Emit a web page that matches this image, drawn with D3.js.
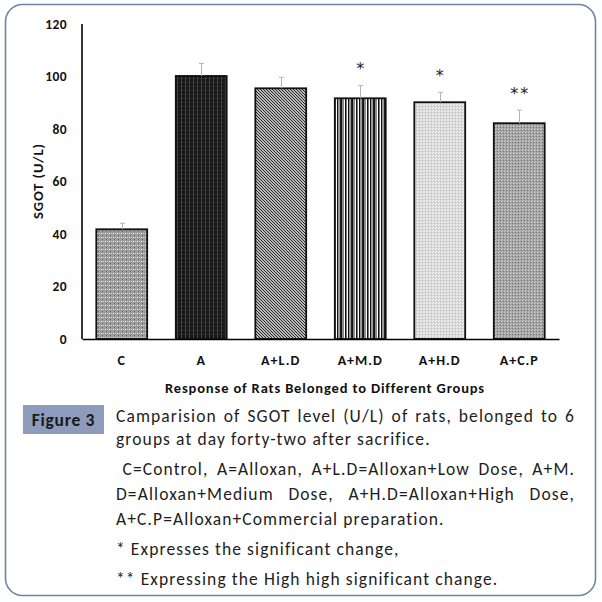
<!DOCTYPE html>
<html><head><meta charset="utf-8">
<script src="https://cdn.jsdelivr.net/npm/d3@7"></script>
<style>body{margin:0;background:#fff}svg{display:block}</style>
</head><body>
<svg id="c" width="602" height="602"></svg>
<script>
// ---- data ----
const categories = ["C", "A", "A+L.D", "A+M.D", "A+H.D", "A+C.P"];
const values = [41.8, 100.2, 95.5, 91.7, 90.2, 82.2];
const errors = [2.3, 4.8, 4.2, 4.9, 3.8, 5.0];
const significance = ["", "", "", "*", "*", "**"];
const patterns = ["pC", "pA", "pLD", "pMD", "pHD", "pCP"];
const yTicks = [0, 20, 40, 60, 80, 100, 120];
const yTitle = "SGOT (U/L)";
const xTitle = "Response of Rats Belonged to Different Groups";
const figLabel = "Figure 3";
const captionLines = [
  {t: "Camparision of SGOT level (U/L) of rats, belonged to 6", j: true, x0: 116, y: 422},
  {t: "groups at day forty-two after sacrifice.", j: false, x0: 116, y: 445},
  {t: "C=Control, A=Alloxan, A+L.D=Alloxan+Low Dose, A+M.", j: true, x0: 122.5, y: 475},
  {t: "D=Alloxan+Medium Dose, A+H.D=Alloxan+High Dose,", j: true, x0: 116, y: 500},
  {t: "A+C.P=Alloxan+Commercial preparation.", j: false, x0: 116, y: 524.5},
  {t: "* Expresses the significant change,", j: false, x0: 116, y: 555},
  {t: "** Expressing the High high significant change.", j: false, x0: 116, y: 585}
];

const FONT = "Carlito, Calibri, Lato, sans-serif";
const svg = d3.select("#c");
const defs = svg.append("defs");

// patterns
function pat(id, w, h, draw) {
  const p = defs.append("pattern").attr("id", id).attr("patternUnits", "userSpaceOnUse")
    .attr("width", w).attr("height", h);
  draw(p);
  return p;
}
pat("pC", 4, 4, p => {
  p.append("rect").attr("width", 4).attr("height", 4).attr("fill", "#9c9c9c");
  p.append("rect").attr("x", 1).attr("y", 1).attr("width", 1).attr("height", 1).attr("fill", "#e8e8e8");
  p.append("rect").attr("x", 3).attr("y", 1).attr("width", 1).attr("height", 1).attr("fill", "#d0d0d0");
  p.append("rect").attr("x", 2).attr("y", 3).attr("width", 1).attr("height", 1).attr("fill", "#6a6a6a");
});
pat("pA", 4, 4, p => {
  p.append("rect").attr("width", 4).attr("height", 4).attr("fill", "#141414");
  p.append("rect").attr("x", 1).attr("width", 1).attr("height", 4).attr("fill", "#4a4a4a");
  p.append("rect").attr("y", 2).attr("width", 4).attr("height", 1).attr("fill", "#303030");
});
pat("pLD", 3, 3, p => {
  p.append("rect").attr("width", 3).attr("height", 3).attr("fill", "#f4f4f4");
  p.append("path").attr("d", "M-1,-1 L4,4 M-1,2 L1,4 M2,-1 L4,1").attr("stroke", "#222").attr("stroke-width", 1.1);
});
pat("pMD", 11, 4, p => {
  p.append("rect").attr("width", 11).attr("height", 4).attr("fill", "#fff");
  [[0,1,"#111"],[1,2,"#8a8a8a"],[4,1,"#111"],[5,1,"#777"],[7,1,"#111"],[8,2,"#999"],[10,1,"#222"]]
    .forEach(([x,w,c]) => p.append("rect").attr("x", x).attr("width", w).attr("height", 4).attr("fill", c));
});
pat("pHD", 3, 3, p => {
  p.append("rect").attr("width", 3).attr("height", 3).attr("fill", "#dadada");
  p.append("rect").attr("x", 0).attr("y", 0).attr("width", 1).attr("height", 1).attr("fill", "#f4f4f4");
  p.append("rect").attr("x", 2).attr("y", 1).attr("width", 1).attr("height", 1).attr("fill", "#b8b8b8");
  p.append("rect").attr("x", 1).attr("y", 2).attr("width", 1).attr("height", 1).attr("fill", "#ececec");
});
pat("pCP", 3, 3, p => {
  p.append("rect").attr("width", 3).attr("height", 3).attr("fill", "#a4a4a4");
  p.append("rect").attr("x", 0).attr("y", 0).attr("width", 1).attr("height", 1).attr("fill", "#d0d0d0");
  p.append("rect").attr("x", 2).attr("y", 1).attr("width", 1).attr("height", 1).attr("fill", "#767676");
  p.append("rect").attr("x", 1).attr("y", 2).attr("width", 1).attr("height", 1).attr("fill", "#bcbcbc");
});

// frame
svg.append("rect").attr("x", 5.5).attr("y", 4.5).attr("width", 590).attr("height", 591)
  .attr("rx", 17).attr("fill", "#fff").attr("stroke", "#6e84a3").attr("stroke-width", 1.6);

// scales
const x = d3.scaleBand().domain(categories).range([82, 559]).paddingInner(0.36).paddingOuter(0.18);
const y = d3.scaleLinear().domain([0, 120]).range([339, 24]);

// y tick labels (axis without tick lines)
const yAxis = svg.append("g").attr("transform", "translate(82,0)")
  .call(d3.axisLeft(y).tickValues(yTicks).tickSize(0).tickPadding(15));
yAxis.select(".domain").remove();
yAxis.selectAll("text").attr("font-family", FONT).attr("font-weight", "bold")
  .attr("font-size", 13.5).attr("letter-spacing", 0.4).attr("fill", "#111");

// bars
svg.append("g").selectAll("rect").data(categories).join("rect")
  .attr("x", d => x(d)).attr("width", x.bandwidth())
  .attr("y", (d, i) => y(values[i])).attr("height", (d, i) => y(0) - y(values[i]))
  .attr("fill", (d, i) => `url(#${patterns[i]})`)
  .attr("stroke", "#111").attr("stroke-width", 1.8);

// error bars
const eg = svg.append("g").attr("stroke", "#b4b4b4").attr("stroke-width", 1);
categories.forEach((c, i) => {
  const cx = Math.round(x(c) + x.bandwidth() / 2) + 0.5;
  eg.append("line").attr("x1", cx).attr("x2", cx).attr("y1", y(values[i])).attr("y2", y(values[i] + errors[i]));
  eg.append("line").attr("x1", cx - 2.5).attr("x2", cx + 2.5).attr("y1", y(values[i] + errors[i])).attr("y2", y(values[i] + errors[i]));
});

// significance stars
svg.append("g").selectAll("text").data(categories).join("text")
  .attr("x", d => x(d) + x.bandwidth() / 2 + 1)
  .attr("y", (d, i) => y(values[i] + errors[i]) - 11)
  .attr("text-anchor", "middle").attr("font-family", "'DejaVu Sans', sans-serif")
  .attr("font-size", 16).attr("letter-spacing", 2).attr("fill", "#222")
  .text((d, i) => significance[i]);

// axes lines
svg.append("line").attr("x1", 82).attr("x2", 82).attr("y1", y(120)).attr("y2", y(0))
  .attr("stroke", "#000").attr("stroke-width", 1.6);
const xAxis = svg.append("g").attr("transform", `translate(0,${y(0)})`)
  .call(d3.axisBottom(x).tickSize(0).tickPadding(16));
xAxis.select(".domain").attr("stroke", "#000").attr("stroke-width", 1.6);
xAxis.selectAll("text").attr("font-family", FONT).attr("font-weight", "bold")
  .attr("font-size", 14).attr("letter-spacing", 1).attr("fill", "#111");

// axis titles
svg.append("text").attr("transform", "translate(43,181) rotate(-90)")
  .attr("text-anchor", "middle").attr("font-family", FONT).attr("font-weight", "bold")
  .attr("font-size", 14.5).attr("letter-spacing", 0.9).attr("fill", "#111").text(yTitle);
svg.append("text").attr("x", 325).attr("y", 393)
  .attr("text-anchor", "middle").attr("font-family", FONT).attr("font-weight", "bold")
  .attr("font-size", 14.5).attr("letter-spacing", 0.85).attr("fill", "#111").text(xTitle);

// figure label box
svg.append("rect").attr("x", 23).attr("y", 405).attr("width", 81).attr("height", 29).attr("fill", "#8d9bbd");
svg.append("text").attr("x", 63.5).attr("y", 426).attr("text-anchor", "middle")
  .attr("font-family", FONT).attr("font-weight", "bold").attr("font-size", 17.5)
  .attr("letter-spacing", 0.7).attr("fill", "#1a1a1a")
  .text(figLabel);

// caption
const right = 575;
captionLines.forEach(l => {
  const t = svg.append("text").attr("x", l.x0).attr("y", l.y)
    .attr("font-family", FONT).attr("font-size", 17.5).attr("letter-spacing", 1.1)
    .attr("fill", "#1e1e1e").text(l.t);
  if (l.j) {
    const w = t.node().getComputedTextLength();
    const n = (l.t.match(/ /g) || []).length;
    if (n > 0) t.attr("word-spacing", Math.max(0, (right - l.x0 - w) / n));
  }
});
</script>
</body></html>
